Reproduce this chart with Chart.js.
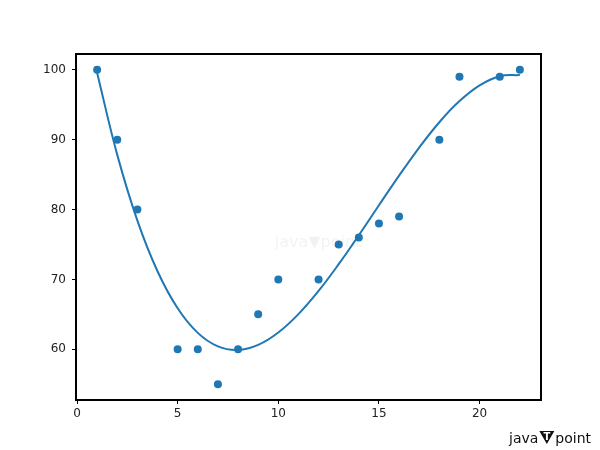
<!DOCTYPE html>
<html>
<head>
<meta charset="utf-8">
<script src="https://cdn.jsdelivr.net/npm/chart.js@4/dist/chart.umd.min.js"></script>
<style>
html,body{margin:0;padding:0;background:#fff;}
#wrap{width:600px;height:450px;}
</style>
</head>
<body>
<div id="wrap"><canvas id="c" width="600" height="450"></canvas></div>
<script>
const pointsX = [1,2,3,5,6,7,8,9,10,12,13,14,15,16,18,19,21,22];
const pointsY = [100,90,80,60,60,55,60,65,70,70,75,76,78,79,90,99,99,100];
const curveX = [1,2,3,4,5,6,7,8,9,10,11,12,13,14,15,16,17,18,19,20,21,22];
const curveY = [99.54,87.82,78.42,71.17,65.87,62.35,60.42,59.91,60.63,62.40,65.03,68.35,72.18,76.32,80.61,84.85,88.87,92.49,95.51,97.77,99.08,99.24];
const xTicks = [0,5,10,15,20];
const yTicks = [60,70,80,90,100];

const blue = '#1f77b4';

const framePlugin = {
  id: 'frame',
  afterDraw(chart) {
    const {ctx, chartArea: a} = chart;
    ctx.save();
    ctx.strokeStyle = '#000';
    ctx.lineWidth = 2;
    ctx.strokeRect(a.left, a.top, a.right - a.left, a.bottom - a.top);
    // watermark center
    ctx.fillStyle = 'rgba(0,0,0,0.05)';
    ctx.font = '16px "DejaVu Sans"';
    ctx.textBaseline = 'middle';
    ctx.textAlign = 'center';
    ctx.fillText('java\u25BCpoint', 318, 243);
    // logo bottom right
    ctx.textAlign = 'left';
    ctx.textBaseline = 'alphabetic';
    ctx.font = '14px "DejaVu Sans"';
    ctx.fillStyle = '#111';
    let x = 509, y = 443;
    ctx.fillText('java', x, y);
    x += ctx.measureText('java').width + 1;
    ctx.beginPath();
    ctx.moveTo(x, y - 12);
    ctx.lineTo(x + 15, y - 12);
    ctx.lineTo(x + 7.5, y + 1);
    ctx.closePath();
    ctx.fill();
    ctx.fillStyle = '#fff';
    ctx.font = 'bold 10px "DejaVu Sans"';
    ctx.textAlign = 'center';
    ctx.fillText('T', x + 7.5, y - 3);
    ctx.fillStyle = '#111';
    ctx.textAlign = 'left';
    ctx.font = '14px "DejaVu Sans"';
    ctx.fillText('point', x + 16, y);
    ctx.restore();
  }
};

new Chart(document.getElementById('c'), {
  type: 'scatter',
  data: {
    datasets: [
      {
        label: 'fit',
        data: curveX.map((v, i) => ({x: v, y: curveY[i]})),
        showLine: true,
        borderColor: blue,
        borderWidth: 2,
        pointRadius: 0,
        tension: 0.4,
        fill: false
      },
      {
        label: 'data',
        data: pointsX.map((v, i) => ({x: v, y: pointsY[i]})),
        backgroundColor: blue,
        borderColor: blue,
        borderWidth: 0,
        pointRadius: 4,
        pointHoverRadius: 4
      }
    ]
  },
  options: {
    responsive: false,
    animation: false,
    events: [],
    layout: {padding: {left: 0, right: 59, top: 54, bottom: 0}},
    plugins: {legend: {display: false}, tooltip: {enabled: false}},
    scales: {
      x: {
        type: 'linear',
        min: -0.05,
        max: 23.05,
        afterBuildTicks: s => { s.ticks = xTicks.map(v => ({value: v})); },
        afterFit: s => { s.height = 50; },
        grid: {drawOnChartArea: false, drawTicks: true, tickLength: 4, color: '#000'},
        border: {display: false},
        ticks: {color: '#222', font: {family: 'DejaVu Sans', size: 12}, padding: 3, maxRotation: 0}
      },
      y: {
        min: 52.75,
        max: 102.25,
        afterBuildTicks: s => { s.ticks = yTicks.map(v => ({value: v})); },
        afterFit: s => { s.width = 76; },
        grid: {drawOnChartArea: false, drawTicks: true, tickLength: 4, color: '#000'},
        border: {display: false},
        ticks: {color: '#222', font: {family: 'DejaVu Sans', size: 12}, padding: 6}
      }
    }
  },
  plugins: [framePlugin]
});
</script>
</body>
</html>
